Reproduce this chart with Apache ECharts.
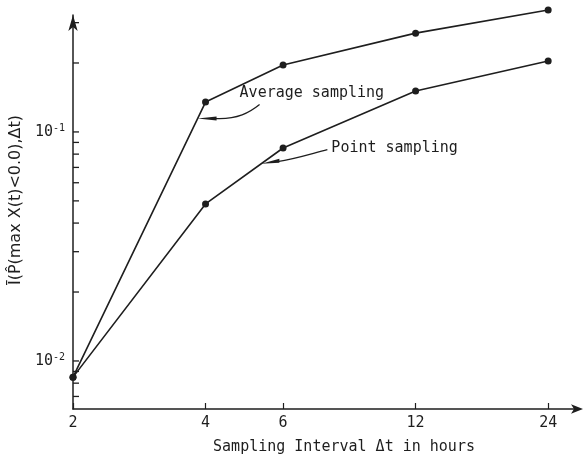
<!DOCTYPE html>
<html><head><meta charset="utf-8">
<script src="https://cdn.jsdelivr.net/npm/echarts@6/dist/echarts.min.js"></script>
<style>html,body{margin:0;padding:0;background:#fff}#c{width:583px;height:464px}</style>
</head><body><div id="c"></div>
<script>
var intervals = [2, 4, 6, 12, 24];
var averageSampling = [0.0085, 0.135, 0.196, 0.270, 0.341];
var pointSampling = [0.0085, 0.0485, 0.0851, 0.151, 0.204];
var xTickValues = [2, 4, 6, 12, 24];
var yTickValues = [0.007,0.008,0.009,0.01,0.02,0.03,0.04,0.05,0.06,0.07,0.08,0.09,0.1,0.2,0.3];
var yLabelValues = [0.01, 0.1];

var MONO = '"DejaVu Sans Mono", monospace';
var SANS = '"DejaVu Sans", sans-serif';
var INK = '#1e1e1e';
function pairs(xs, ys){ return xs.map(function(x,i){ return [x, ys[i]]; }); }

var chart = echarts.init(document.getElementById('c'));
var option = {
  animation: false,
  backgroundColor: '#fff',
  grid: {left: 73, right: 4, top: 15, bottom: 55},
  xAxis: {
    type: 'log', logBase: 2, min: 2, max: 28.2,
    name: 'Sampling Interval \u0394t in hours', nameLocation: 'middle', nameGap: 31,
    nameTextStyle: {fontFamily: MONO, fontSize: 15, color: INK, padding: [0, 0, 0, 36]},
    axisLine: {lineStyle: {color: INK, width: 1.5}, symbol: ['none','arrow'], symbolSize: [7, 12], symbolOffset: [0, 4]},
    axisTick: {inside: true, length: 6, lineStyle: {color: INK, width: 1.2}, customValues: xTickValues},
    axisLabel: {customValues: xTickValues, fontFamily: MONO, fontSize: 15, color: INK, margin: 7,
      formatter: function(v){ return String(Math.round(v)); }},
    splitLine: {show: false}, minorTick: {show: false}
  },
  yAxis: {
    type: 'log', logBase: 10, min: 0.00617, max: 0.324,
    name: '\u012A(P\u0302(max X(t)<0.0),\u0394t)', nameLocation: 'middle', nameGap: 48,
    nameTextStyle: {fontFamily: SANS, fontSize: 16, color: INK, padding: [0, 0, 0, 24]},
    axisLine: {lineStyle: {color: INK, width: 1.5}, symbol: ['none','arrow'], symbolSize: [7, 16], symbolOffset: [0, 0]},
    axisTick: {show: false},
    axisLabel: {customValues: yLabelValues, fontFamily: MONO, fontSize: 15, color: INK, margin: 8,
      formatter: function(v){ return '10{s|' + Math.round(Math.log10(v)) + '}'; },
      rich: {s: {fontSize: 10, verticalAlign: 'top', fontFamily: MONO, color: INK, padding: [0,0,8,0]}}},
    splitLine: {show: false}, minorTick: {show: false}
  },
  series: [
    {type: 'custom', name: 'yTicks', silent: true, clip: false, z: 1,
      data: yTickValues.map(function(v){ return [xTickValues[0], v]; }),
      renderItem: function(params, api){
        var p = api.coord([api.value(0), api.value(1)]);
        return {type: 'line', shape: {x1: p[0], y1: p[1], x2: p[0] + 6, y2: p[1]},
          style: {stroke: INK, lineWidth: 1.3}};
      }},
    {type: 'line', name: 'Average sampling', data: pairs(intervals, averageSampling), clip: false,
      symbol: 'circle', symbolSize: 7, itemStyle: {color: INK}, lineStyle: {color: INK, width: 1.6}},
    {type: 'line', name: 'Point sampling', data: pairs(intervals, pointSampling), clip: false,
      symbol: 'circle', symbolSize: 7, itemStyle: {color: INK}, lineStyle: {color: INK, width: 1.6}}
  ]
};
chart.setOption(option);

function onSeg(series, i, t){
  var a = chart.convertToPixel({gridIndex:0}, [intervals[i], series[i]]);
  var b = chart.convertToPixel({gridIndex:0}, [intervals[i+1], series[i+1]]);
  return [a[0] + (b[0]-a[0])*t, a[1] + (b[1]-a[1])*t];
}
var tA = onSeg(averageSampling, 0, 0.94);
var tP = onSeg(pointSampling, 1, 0.72);
var graphics = [
  {type:'text', left: tA[0]+42, top: tA[1]-33, style:{text:'Average sampling', font:'15px '+MONO, fill: INK}},
  {type:'bezierCurve', shape:{x1:tA[0]+18, y1:tA[1], cpx1:tA[0]+40, cpy1:tA[1]+1, cpx2:tA[0]+52, cpy2:tA[1]-6, x2:tA[0]+62, y2:tA[1]-14},
    style:{stroke: INK, lineWidth: 1.3, fill: null}},
  {type:'polygon', shape:{points:[[tA[0],tA[1]],[tA[0]+19,tA[1]-2],[tA[0]+19,tA[1]+2]]}, style:{fill: INK}},
  {type:'text', left: tP[0]+70, top: tP[1]-23, style:{text:'Point sampling', font:'15px '+MONO, fill: INK}},
  {type:'bezierCurve', shape:{x1:tP[0]+16, y1:tP[1]-2, cpx1:tP[0]+35, cpy1:tP[1]-5, cpx2:tP[0]+50, cpy2:tP[1]-10, x2:tP[0]+66, y2:tP[1]-14},
    style:{stroke: INK, lineWidth: 1.3, fill: null}},
  {type:'polygon', shape:{points:[[tP[0],tP[1]],[tP[0]+18,tP[1]-5],[tP[0]+18,tP[1]-1]]}, style:{fill: INK}}
];
chart.setOption({graphic: graphics});
</script></body></html>
